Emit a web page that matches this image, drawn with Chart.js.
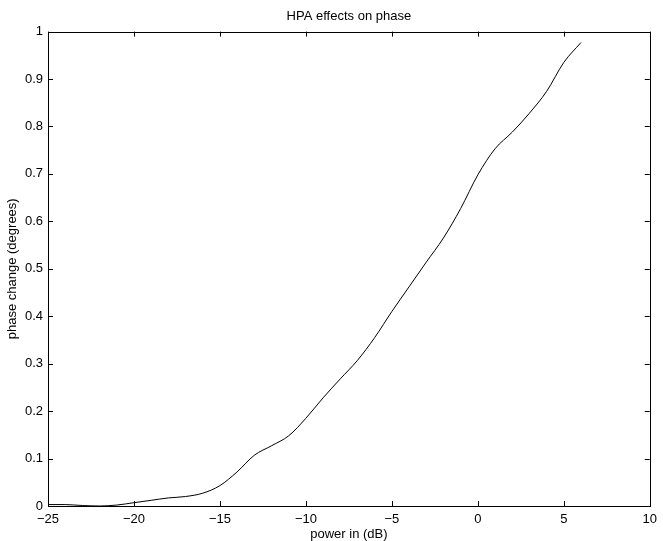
<!DOCTYPE html>
<html>
<head>
<meta charset="utf-8">
<title>HPA effects on phase</title>
<script src="https://cdn.jsdelivr.net/npm/chart.js"></script>
<style>
  html, body { margin: 0; padding: 0; background: #ffffff; }
  #wrap { width: 663px; height: 541px; position: relative; }
</style>
</head>
<body>
<div id="wrap"><canvas id="hpaChart"></canvas></div>
<script>
// --- data ---
const powerIn = [-25, -24, -23, -22, -21, -20, -19, -18, -17, -16, -15, -14, -13, -12, -11,
                 -10, -9, -8, -7, -6, -5, -4, -3, -2, -1, 0, 1, 2, 3, 4, 5, 6];
const phaseChange = [0.003, 0.003, 0.001, 0.0, 0.002, 0.007, 0.012, 0.017, 0.020, 0.027, 0.043, 0.072, 0.107, 0.127, 0.148,
                     0.185, 0.228, 0.268, 0.307, 0.355, 0.410, 0.462, 0.514, 0.565, 0.627, 0.698, 0.753, 0.788, 0.828, 0.874, 0.935, 0.977];
const xTicks = [-25, -20, -15, -10, -5, 0, 5, 10];
const yTicks = [0, 0.1, 0.2, 0.3, 0.4, 0.5, 0.6, 0.7, 0.8, 0.9, 1];

const FONT = 'Liberation Sans, Arial, Helvetica, sans-serif';
Chart.defaults.font.family = FONT;
Chart.defaults.font.size = 13;
Chart.defaults.color = '#000000';

// matlab style box with inward ticks on all four sides
const boxTicks = {
    id: 'boxTicks',
    afterDraw(chart) {
        const { ctx, chartArea: a, scales } = chart;
        const len = 5;
        ctx.save();
        ctx.strokeStyle = '#000000';
        ctx.lineWidth = 1;
        ctx.beginPath();
        xTicks.forEach(v => {
            const px = Math.round(scales.x.getPixelForValue(v)) + 0.5;
            ctx.moveTo(px, a.bottom); ctx.lineTo(px, a.bottom - len);
            ctx.moveTo(px, a.top); ctx.lineTo(px, a.top + len);
        });
        yTicks.forEach(v => {
            const py = Math.round(scales.y.getPixelForValue(v)) + 0.5;
            ctx.moveTo(a.left, py); ctx.lineTo(a.left + len, py);
            ctx.moveTo(a.right, py); ctx.lineTo(a.right - len, py);
        });
        ctx.stroke();
        ctx.strokeRect(Math.round(a.left) + 0.5, Math.round(a.top) + 0.5,
                       Math.round(a.right - a.left), Math.round(a.bottom - a.top));
        ctx.restore();
    }
};

const fmtMinus = v => String(v).replace('-', '\u2212');

new Chart(document.getElementById('hpaChart'), {
    type: 'line',
    data: {
        datasets: [{
            data: powerIn.map((x, i) => ({ x: x, y: phaseChange[i] })),
            borderColor: '#000000',
            borderWidth: 1,
            pointRadius: 0,
            fill: false,
            cubicInterpolationMode: 'monotone'
        }]
    },
    options: {
        responsive: true,
        maintainAspectRatio: false,
        animation: false,
        layout: { autoPadding: false, padding: { left: 0, right: 7.5, top: 0, bottom: 0 } },
        plugins: {
            legend: { display: false },
            tooltip: { enabled: false },
            title: {
                display: true,
                text: 'HPA effects on phase',
                fullSize: false,
                color: '#000000',
                font: { size: 13, weight: 'normal' },
                padding: { top: 9, bottom: 7 }
            }
        },
        scales: {
            x: {
                type: 'linear',
                min: -25,
                max: 10,
                afterBuildTicks: s => { s.ticks = xTicks.map(v => ({ value: v })); },
                afterFit: s => { s.height = 35; },
                grid: { display: false, drawTicks: false },
                border: { display: false },
                ticks: { padding: 6, callback: v => fmtMinus(v), maxRotation: 0, autoSkip: false },
                title: { display: true, text: 'power in (dB)', padding: { top: 0, bottom: -1 } }
            },
            y: {
                type: 'linear',
                min: 0,
                max: 1,
                afterBuildTicks: s => { s.ticks = yTicks.map(v => ({ value: v })); },
                afterFit: s => { s.width = 48; },
                grid: { display: false, drawTicks: false },
                border: { display: false },
                ticks: { padding: 5, callback: v => String(Math.round(v * 10) / 10), autoSkip: false },
                title: { display: true, text: 'phase change (degrees)', padding: { top: 5, bottom: 0 } }
            }
        }
    },
    plugins: [boxTicks]
});
</script>
</body>
</html>
